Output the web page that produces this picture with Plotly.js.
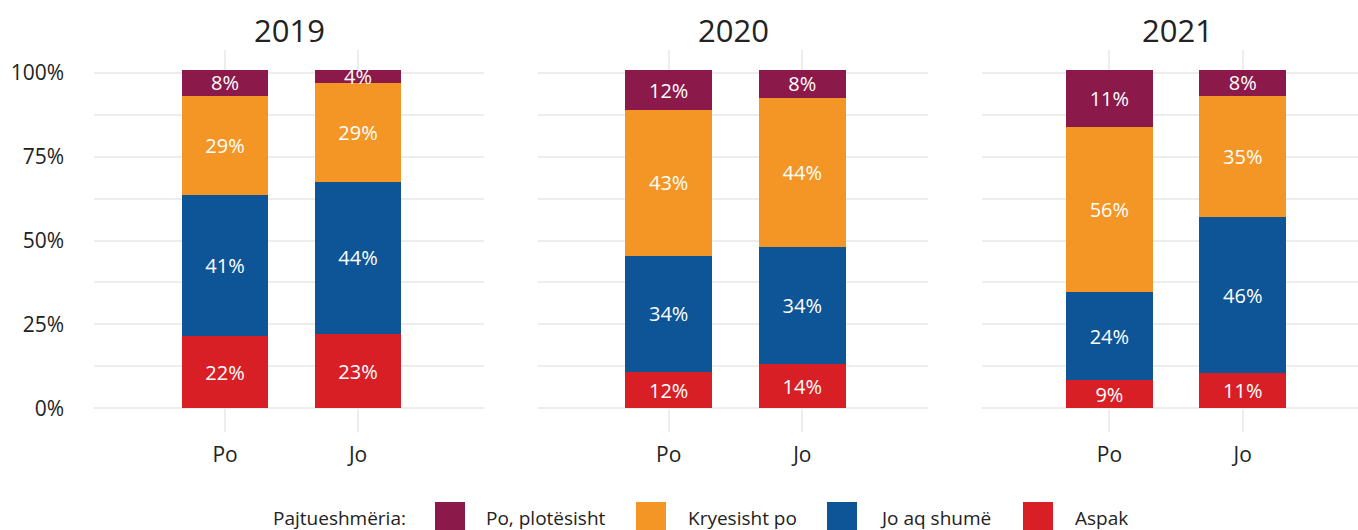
<!DOCTYPE html>
<html>
<head>
<meta charset="utf-8">
<script src="https://cdn.plot.ly/plotly-3.0.1.min.js"></script>
<style>html,body{margin:0;padding:0;background:#fff;}#chart{width:1358px;height:530px;}</style>
</head>
<body>
<div id="chart"></div>
<script>
// ---- data ----
const years = ['2019', '2020', '2021'];
const categories = ['Po', 'Jo'];
const seriesNames = ['Aspak', 'Jo aq shumë', 'Kryesisht po', 'Po, plotësisht']; // bottom -> top
const seriesColors = ['#D81F26', '#0D5596', '#F39626', '#8B1A4A'];
const legendOrder = [3, 2, 1, 0];
const legendTitle = 'Pajtueshmëria:';

// values per series, order: 2019 Po, 2019 Jo, 2020 Po, 2020 Jo, 2021 Po, 2021 Jo
const aspakValues      = [21.6, 22.2, 10.9, 13.2, 8.4, 10.5];
const joAqShumeValues  = [41.9, 45.2, 34.5, 34.9, 26.2, 46.5];
const kryesishtValues  = [29.6, 29.5, 43.5, 44.4, 49.2, 36.1];
const plotesishtValues = [7.7, 3.9, 11.9, 8.3, 17.0, 7.7];

const aspakLabels      = ['22%', '23%', '12%', '14%', '9%', '11%'];
const joAqShumeLabels  = ['41%', '44%', '34%', '34%', '24%', '46%'];
const kryesishtLabels  = ['29%', '29%', '43%', '44%', '56%', '35%'];
const plotesishtLabels = ['8%', '4%', '12%', '8%', '11%', '8%'];

const yTickVals = [0, 25, 50, 75, 100];
const yTickText = ['0%', '25%', '50%', '75%', '100%'];

// ---- build ----
const seriesValues = [aspakValues, joAqShumeValues, kryesishtValues, plotesishtValues];
const seriesLabels = [aspakLabels, joAqShumeLabels, kryesishtLabels, plotesishtLabels];
const FONT = '"Open Sans", "Noto Sans", sans-serif';
const W = 1358, H = 530;
const px = v => v / W;
const py = v => (H - v) / H;

const traces = [];
seriesNames.forEach((name, s) => {
  years.forEach((yr, i) => {
    const sfx = i === 0 ? '' : String(i + 1);
    traces.push({
      type: 'bar',
      name: name,
      x: categories,
      y: seriesValues[s].slice(i * 2, i * 2 + 2),
      text: seriesLabels[s].slice(i * 2, i * 2 + 2),
      texttemplate: '%{text}',
      textposition: 'inside',
      insidetextanchor: 'middle',
      textangle: 0,
      constraintext: 'none',
      textfont: {family: FONT, size: 20, color: '#ffffff'},
      marker: {color: seriesColors[s], line: {width: 0}},
      width: 0.65,
      xaxis: 'x' + sfx,
      yaxis: 'y' + sfx,
      showlegend: false,
      hoverinfo: 'skip'
    });
  });
});

const gridColor = '#EDEDED';
const xDomains = [[px(94.3), px(484)], [px(538), px(928)], [px(982), 1]];
const xRanges = [[-0.983, 1.947], [-0.978, 1.941], [-0.955, 1.864]];
const yDomain = [py(432), py(50)];
const yRange = [-7.06, 106.77];

const layout = {
  width: W, height: H,
  margin: {l: 0, r: 0, t: 0, b: 0},
  paper_bgcolor: '#ffffff',
  plot_bgcolor: '#ffffff',
  barmode: 'stack',
  bargap: 0,
  font: {family: FONT, color: '#222222'},
  shapes: [],
  annotations: []
};

years.forEach((yr, i) => {
  const sfx = i === 0 ? '' : String(i + 1);
  layout['xaxis' + sfx] = {
    domain: xDomains[i],
    range: xRanges[i],
    type: 'category',
    anchor: 'y' + sfx,
    showgrid: true, gridcolor: gridColor, gridwidth: 2,
    zeroline: false, showline: false,
    ticks: 'outside', ticklen: 4, tickcolor: 'rgba(0,0,0,0)',
    tickfont: {family: FONT, size: 21, color: '#222222'},
    fixedrange: true
  };
  layout['yaxis' + sfx] = {
    domain: yDomain,
    range: yRange,
    anchor: 'x' + sfx,
    tickvals: yTickVals,
    ticktext: yTickText,
    showticklabels: i === 0,
    showgrid: true, gridcolor: gridColor, gridwidth: 2,
    minor: {tick0: 0, dtick: 12.5, showgrid: true, gridcolor: gridColor, gridwidth: 2, ticks: ''},
    zeroline: false, showline: false,
    ticks: i === 0 ? 'outside' : '', ticklen: 25, tickcolor: 'rgba(0,0,0,0)',
    tickfont: {family: FONT, size: 21, color: '#222222'},
    fixedrange: true
  };
  layout.annotations.push({
    xref: 'paper', yref: 'paper',
    x: (xDomains[i][0] + (i === 2 ? px(982 + 390) : xDomains[i][1])) / 2,
    y: py(30),
    xanchor: 'center', yanchor: 'middle',
    text: yr, showarrow: false,
    font: {family: FONT, size: 31, color: '#222222'}
  });
});

// manual legend (large swatches)
const swatchX = [435, 636, 827, 1023];
const labelX = [484, 686, 878, 1073];
layout.annotations.push({
  xref: 'paper', yref: 'paper', x: px(271), y: py(518),
  xanchor: 'left', yanchor: 'middle', showarrow: false,
  text: legendTitle, font: {family: FONT, size: 19, color: '#222222'}
});
legendOrder.forEach((s, k) => {
  layout.shapes.push({
    type: 'rect', xref: 'paper', yref: 'paper',
    x0: px(swatchX[k]), x1: px(swatchX[k] + 30),
    y0: py(532), y1: py(502),
    fillcolor: seriesColors[s], line: {width: 0}
  });
  layout.annotations.push({
    xref: 'paper', yref: 'paper', x: px(labelX[k]), y: py(518),
    xanchor: 'left', yanchor: 'middle', showarrow: false,
    text: seriesNames[s], font: {family: FONT, size: 19, color: '#222222'}
  });
});

Plotly.newPlot('chart', traces, layout, {displayModeBar: false, staticPlot: true});
</script>
</body>
</html>
